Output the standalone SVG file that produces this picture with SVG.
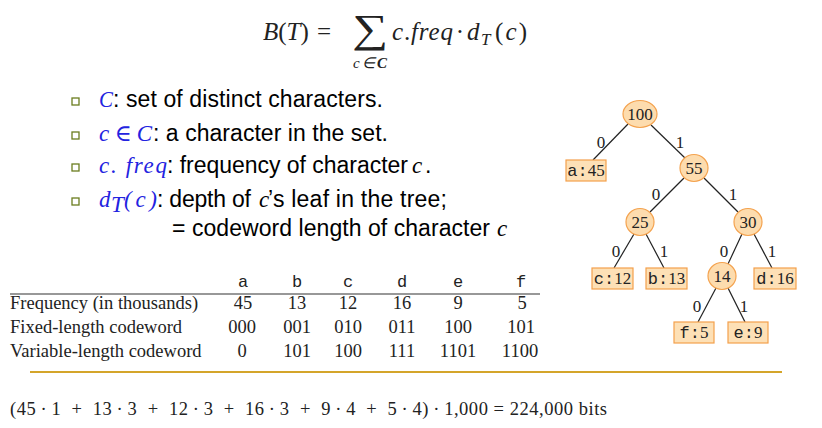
<svg xmlns="http://www.w3.org/2000/svg" width="822" height="428" viewBox="0 0 822 428">
<style>
.serif{font-family:"Liberation Serif","Times New Roman",serif;fill:#222}
.sans{font-family:"Liberation Sans",Arial,sans-serif;font-size:23px;fill:#000}
.math{font-family:"Liberation Serif","DejaVu Serif",serif;font-style:italic;font-size:23px;fill:#2323e0}
.mathk{font-family:"Liberation Serif","DejaVu Serif",serif;font-style:italic;font-size:23px;fill:#000}
.bul{fill:#fff;stroke:#6b7d1f;stroke-width:1.3}
.inode{fill:#fddcae;stroke:#f4a24e;stroke-width:1.2}
.leaf{fill:#fde0b6;stroke:#f3a04c;stroke-width:1.2}
.nt{font-family:"Liberation Serif",serif;font-size:17px;fill:#222;text-anchor:middle}
.mono{font-family:"Liberation Mono","Courier New",monospace}
.el{font-family:"Liberation Serif",serif;font-size:17px;fill:#222;text-anchor:middle}
.edge{stroke:#222;stroke-width:1.2;fill:none}
.tb{font-family:"Liberation Serif",serif;font-size:18.5px;fill:#222}
.tc{text-anchor:middle}
</style>

<!-- top formula -->
<g id="formula-top">
<text class="serif" x="263" y="40" font-size="25"><tspan font-style="italic">B</tspan>(<tspan font-style="italic">T</tspan>)</text>
<text class="serif" x="317" y="40" font-size="25">=</text>
<text class="serif" x="352" y="42" font-size="40" textLength="36" lengthAdjust="spacingAndGlyphs">∑</text>
<text class="serif" x="353" y="68" font-size="15" font-style="italic" textLength="34" lengthAdjust="spacing">c∈<tspan font-weight="bold">C</tspan></text>
<text class="serif" x="392" y="40" font-size="25" font-style="italic" textLength="61" lengthAdjust="spacing">c<tspan font-style="normal">.</tspan>freq</text>
<text class="serif" x="460" y="40" font-size="25" text-anchor="middle">·</text>
<text class="serif" x="467" y="40" font-size="25" font-style="italic">d</text>
<text class="serif" x="481" y="45" font-size="17" font-style="italic">T</text>
<text class="serif" x="495" y="40" font-size="25" textLength="32" lengthAdjust="spacing">(<tspan font-style="italic">c</tspan>)</text>
</g>

<!-- bullets -->
<g id="bullets">
<rect class="bul" x="72" y="98" width="7" height="7"/>
<rect class="bul" x="72" y="132" width="7" height="7"/>
<rect class="bul" x="72" y="164" width="7" height="7"/>
<rect class="bul" x="72" y="198" width="7" height="7"/>
<text class="math" x="99" y="107" textLength="14" lengthAdjust="spacingAndGlyphs">C</text>
<text class="sans" x="113" y="107" textLength="270" lengthAdjust="spacing">: set of distinct characters.</text>
<text class="math" x="99" y="141" textLength="53" lengthAdjust="spacing">c ∈ C</text>
<text class="sans" x="153" y="141" textLength="235" lengthAdjust="spacing">: a character in the set.</text>
<text class="math" x="99" y="173" textLength="68" lengthAdjust="spacing">c. freq</text>
<text class="sans" x="167" y="173" textLength="241" lengthAdjust="spacing">: frequency of character</text>
<text class="mathk" x="412" y="173">c</text>
<text class="sans" x="425" y="173">.</text>
<text class="math" x="99" y="207">d</text>
<text class="math" x="111" y="212" font-size="15">T</text>
<text class="math" x="124" y="207" textLength="33" lengthAdjust="spacing">(c)</text>
<text class="sans" x="157" y="207" textLength="94" lengthAdjust="spacing">: depth of</text>
<text class="mathk" x="259" y="207">c</text>
<text class="sans" x="268" y="207" textLength="179" lengthAdjust="spacing">’s leaf in the tree;</text>
<text class="sans" x="172" y="236" textLength="318" lengthAdjust="spacing">= codeword length of character</text>
<text class="mathk" x="497" y="236">c</text>
</g>

<!-- connectors -->
<g id="connectors">
<line class="edge" x1="628" y1="124" x2="593" y2="160"/>
<line class="edge" x1="651" y1="125" x2="685" y2="158"/>
<line class="edge" x1="684" y1="178" x2="650" y2="212"/>
<line class="edge" x1="704" y1="178" x2="738" y2="212"/>
<line class="edge" x1="634" y1="234" x2="614" y2="268"/>
<line class="edge" x1="646" y1="234" x2="664" y2="268"/>
<line class="edge" x1="742" y1="234" x2="728" y2="264"/>
<line class="edge" x1="754" y1="234" x2="772" y2="268"/>
<line class="edge" x1="716" y1="288" x2="698" y2="322"/>
<line class="edge" x1="728" y1="288" x2="745" y2="322"/>
<text class="el" x="601" y="148">0</text>
<text class="el" x="680" y="148">1</text>
<text class="el" x="656" y="200">0</text>
<text class="el" x="733" y="200">1</text>
<text class="el" x="616" y="257">0</text>
<text class="el" x="664" y="257">1</text>
<text class="el" x="724" y="257">0</text>
<text class="el" x="772" y="257">1</text>
<text class="el" x="697" y="312">0</text>
<text class="el" x="744" y="312">1</text>
</g>

<!-- tree nodes -->
<g id="n100"><ellipse class="inode" cx="640" cy="114" rx="17" ry="13.5"/><text class="nt" x="640" y="120">100</text></g>
<g id="n55"><ellipse class="inode" cx="694" cy="168" rx="14" ry="13.5"/><text class="nt" x="694" y="174">55</text></g>
<g id="n25"><ellipse class="inode" cx="640" cy="222" rx="14" ry="13.5"/><text class="nt" x="640" y="228">25</text></g>
<g id="n30"><ellipse class="inode" cx="748" cy="222" rx="14" ry="13.5"/><text class="nt" x="748" y="228">30</text></g>
<g id="n14"><ellipse class="inode" cx="722" cy="276" rx="14" ry="13.5"/><text class="nt" x="722" y="282">14</text></g>
<g id="a45"><rect class="leaf" x="566" y="160" width="40" height="21"/><text class="nt" x="586" y="176"><tspan class="mono">a:</tspan>45</text></g>
<g id="c12"><rect class="leaf" x="592" y="268" width="41" height="21"/><text class="nt" x="612.5" y="284"><tspan class="mono">c:</tspan>12</text></g>
<g id="b13"><rect class="leaf" x="646" y="268" width="41" height="21"/><text class="nt" x="666.5" y="284"><tspan class="mono">b:</tspan>13</text></g>
<g id="d16"><rect class="leaf" x="754" y="268" width="42" height="21"/><text class="nt" x="775" y="284"><tspan class="mono">d:</tspan>16</text></g>
<g id="f5"><rect class="leaf" x="674" y="322" width="40" height="21"/><text class="nt" x="694" y="338"><tspan class="mono">f:</tspan>5</text></g>
<g id="e9"><rect class="leaf" x="728" y="322" width="40" height="21"/><text class="nt" x="748" y="338"><tspan class="mono">e:</tspan>9</text></g>

<!-- table -->
<g id="table">
<g class="mono" font-size="17" fill="#222" text-anchor="middle">
<text x="243" y="287">a</text><text x="297" y="287">b</text><text x="348" y="287">c</text>
<text x="402" y="287">d</text><text x="458" y="287">e</text><text x="521" y="287">f</text>
</g>
<line x1="10" y1="294" x2="540" y2="294" stroke="#333" stroke-width="1.2"/>
<text class="tb" x="10" y="309">Frequency (in thousands)</text>
<text class="tb" x="10" y="333">Fixed-length codeword</text>
<text class="tb" x="10" y="357">Variable-length codeword</text>
<g class="tb tc">
<text x="243" y="309">45</text><text x="297" y="309">13</text><text x="348" y="309">12</text><text x="402" y="309">16</text><text x="458" y="309">9</text><text x="522" y="309">5</text>
<text x="242" y="333">000</text><text x="297" y="333">001</text><text x="348" y="333">010</text><text x="402" y="333">011</text><text x="458" y="333">100</text><text x="521" y="333">101</text>
<text x="242" y="357">0</text><text x="297" y="357">101</text><text x="348" y="357">100</text><text x="402" y="357">111</text><text x="458" y="357">1101</text><text x="520" y="357">1100</text>
</g>
</g>

<line id="divider" x1="30" y1="372" x2="782" y2="372" stroke="#d4a52a" stroke-width="2"/>

<text id="formula-bottom" class="tb" x="10" y="415" font-size="18" textLength="597" lengthAdjust="spacing">(45&#8201;·&#8201;1&#160; +&#160; 13&#8201;·&#8201;3&#160; +&#160; 12&#8201;·&#8201;3&#160; +&#160; 16&#8201;·&#8201;3&#160; +&#160; 9&#8201;·&#8201;4&#160; +&#160; 5&#8201;·&#8201;4)&#8201;·&#8201;1,000 = 224,000 bits</text>
</svg>
